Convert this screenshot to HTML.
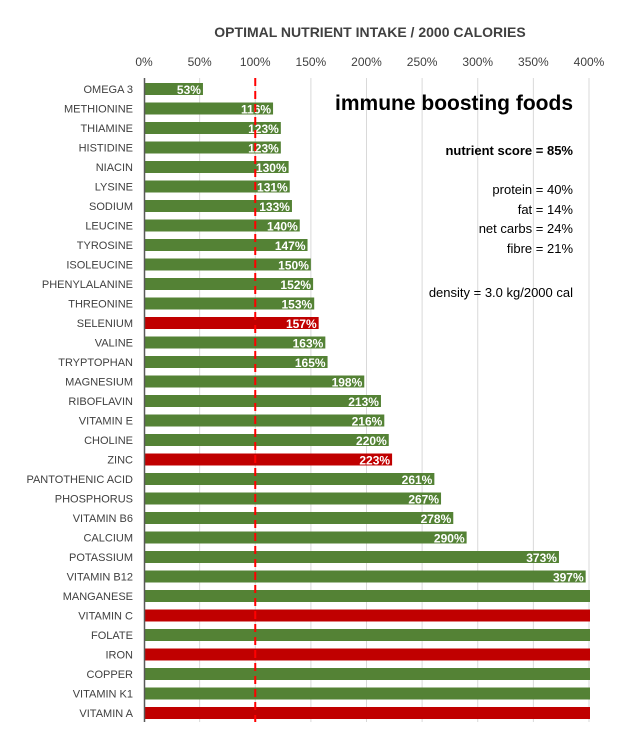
<!DOCTYPE html>
<html><head><meta charset="utf-8"><style>
body{margin:0;background:#fff;font-family:"Liberation Sans",sans-serif}
</style></head><body>
<svg id="c" width="624" height="741" xmlns="http://www.w3.org/2000/svg" font-family="Liberation Sans, sans-serif">
<defs><clipPath id="clip"><rect x="144" y="70" width="446" height="660"/></clipPath></defs>
<text x="370" y="37" text-anchor="middle" font-size="14" font-weight="bold" fill="#404040">OPTIMAL NUTRIENT INTAKE / 2000 CALORIES</text>
<g id="grid"></g><g id="ticks"></g><g id="bars" clip-path="url(#clip)"></g><g id="cats"></g><g id="vals"></g>
<line x1="144.5" y1="78" x2="144.5" y2="722" stroke="#595959" stroke-width="1.5"/>
<line id="ref" y1="78" y2="722" stroke="#ff0000" stroke-width="2" stroke-dasharray="8,5"/>
<g fill="#000">
<text x="573" y="110" text-anchor="end" font-size="21" font-weight="bold">immune boosting foods</text>
<text x="573" y="155" text-anchor="end" font-size="13" font-weight="bold">nutrient score = 85%</text>
<text x="573" y="194" text-anchor="end" font-size="13">protein = 40%</text>
<text x="573" y="214" text-anchor="end" font-size="13">fat = 14%</text>
<text x="573" y="233" text-anchor="end" font-size="13">net carbs = 24%</text>
<text x="573" y="253" text-anchor="end" font-size="13">fibre = 21%</text>
<text x="573" y="297" text-anchor="end" font-size="13">density = 3.0 kg/2000 cal</text>
</g>
</svg>
<script>
const categories=["OMEGA 3","METHIONINE","THIAMINE","HISTIDINE","NIACIN","LYSINE","SODIUM","LEUCINE","TYROSINE","ISOLEUCINE","PHENYLALANINE","THREONINE","SELENIUM","VALINE","TRYPTOPHAN","MAGNESIUM","RIBOFLAVIN","VITAMIN E","CHOLINE","ZINC","PANTOTHENIC ACID","PHOSPHORUS","VITAMIN B6","CALCIUM","POTASSIUM","VITAMIN B12","MANGANESE","VITAMIN C","FOLATE","IRON","COPPER","VITAMIN K1","VITAMIN A"];
const values=[53,116,123,123,130,131,133,140,147,150,152,153,157,163,165,198,213,216,220,223,261,267,278,290,373,397,450,450,450,450,450,450,450];
const highlighted=[0,0,0,0,0,0,0,0,0,0,0,0,1,0,0,0,0,0,0,1,0,0,0,0,0,0,0,1,0,1,0,0,1];
const ticks=[0,50,100,150,200,250,300,350,400];
const NS="http://www.w3.org/2000/svg";
const x=v=>144+v*1.1125;
const y=i=>89+i*19.5;
function mk(t,a,p){const e=document.createElementNS(NS,t);for(const k in a)e.setAttribute(k,a[k]);document.getElementById(p).appendChild(e);return e;}
ticks.forEach(t=>{
 if(t>0){const g=mk("line",{x1:x(t),x2:x(t),y1:78,y2:722,stroke:"#d9d9d9","stroke-width":1},"grid");
 
 }
 const tx=mk("text",{x:x(t),y:66,"text-anchor":"middle","font-size":12,fill:"#404040"},"ticks");tx.textContent=t+"%";
 
 
});
document.getElementById("ref").setAttribute("x1",x(100));document.getElementById("ref").setAttribute("x2",x(100));
categories.forEach((c,i)=>{
 const v=values[i];
 const b=mk("rect",{x:x(0),y:y(i)-6,width:x(v)-x(0),height:12,fill:highlighted[i]?"#c00000":"#548235"},"bars");
 
 
 const l=mk("text",{x:133,y:y(i)+4,"text-anchor":"end","font-size":11,fill:"#404040"},"cats");l.textContent=c;
 
 
 if(v<=400){const t=mk("text",{x:x(v)-2,y:y(i)+5,"text-anchor":"end","font-size":12,"font-weight":"bold",fill:"#fff"},"vals");t.textContent=v+"%";
 
 }
});
</script>
</body></html>
